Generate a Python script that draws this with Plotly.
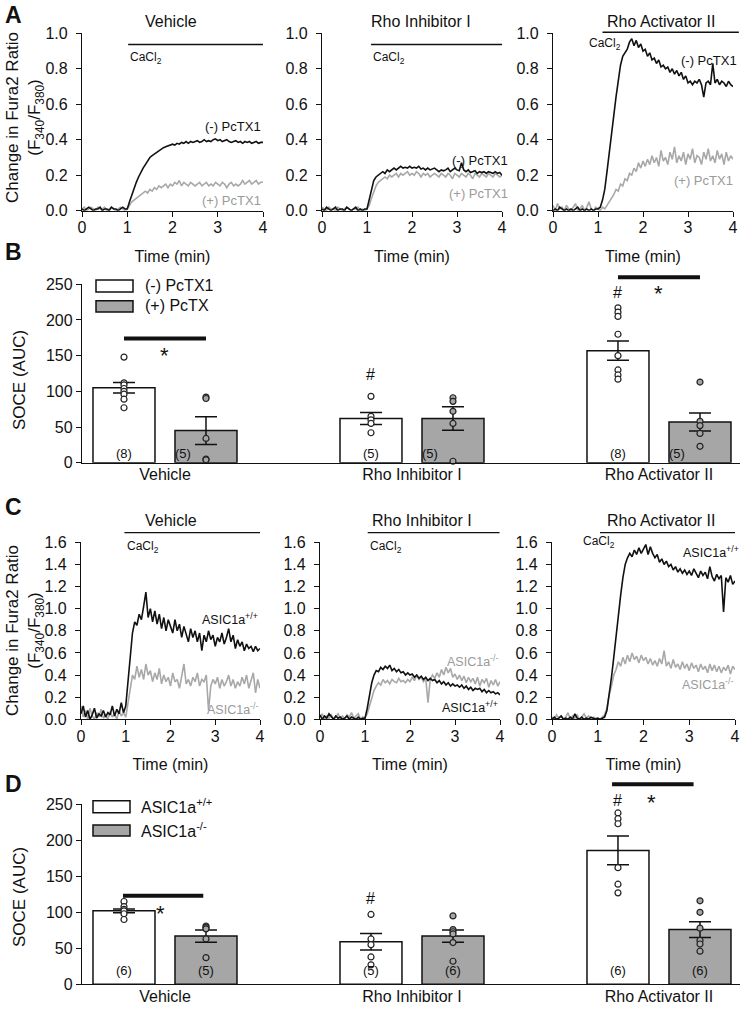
import plotly.graph_objects as go

W, H = 743, 1009
OX, OY = 0, 0
FONT = "Arial, Liberation Sans, sans-serif"
BLACK = "#111111"
GRAY_LINE = "#a8a8a8"
GRAY_BAR = "#a6a6a6"
GRAY_TEXT = "#9a9a9a"

# ---------------- data ----------------
TIME_MIN = [round(i * 0.05, 2) for i in range(81)]

A_VEH_MINUS = [0.01,0.00,0.01,0.02,0.01,0.00,0.01,0.01,0.02,0.00,0.01,0.01,0.00,0.02,0.01,0.01,0.00,0.01,0.02,0.01,0.01,
               0.05,0.09,0.13,0.16,0.19,0.22,0.24,0.26,0.28,0.30,
               0.31,0.32,0.33,0.34,0.35,0.355,0.36,0.365,0.37,0.375,
               0.37,0.38,0.375,0.385,0.38,0.39,0.38,0.39,0.385,0.39,
               0.395,0.385,0.39,0.40,0.39,0.395,0.39,0.40,0.405,0.395,
               0.40,0.39,0.395,0.40,0.39,0.385,0.39,0.395,0.385,0.39,
               0.38,0.39,0.385,0.39,0.38,0.385,0.39,0.38,0.385,0.385]
A_VEH_PLUS = [0.01,0.02,0.00,0.01,0.02,0.01,0.00,0.02,0.01,0.01,0.02,0.00,0.01,0.02,0.01,0.00,0.01,0.02,0.01,0.00,0.01,
              0.03,0.05,0.06,0.07,0.08,0.09,0.10,0.11,0.10,0.12,
              0.11,0.13,0.12,0.14,0.13,0.14,0.15,0.13,0.15,0.14,
              0.16,0.15,0.17,0.14,0.16,0.15,0.14,0.16,0.15,0.14,
              0.15,0.16,0.14,0.15,0.16,0.14,0.15,0.14,0.16,0.15,
              0.14,0.16,0.15,0.13,0.15,0.16,0.14,0.15,0.14,0.15,
              0.17,0.15,0.16,0.17,0.15,0.16,0.17,0.15,0.16,0.16]
A_INH_MINUS = [0.01,0.00,0.02,0.01,0.00,0.01,0.02,0.00,0.01,0.01,0.00,0.02,0.01,0.00,0.01,0.02,0.00,0.01,0.00,0.01,0.01,
               0.06,0.12,0.17,0.19,0.20,0.21,0.22,0.21,0.23,0.22,
               0.23,0.24,0.23,0.24,0.25,0.24,0.245,0.24,0.25,0.24,
               0.245,0.24,0.25,0.235,0.24,0.23,0.24,0.23,0.235,0.24,
               0.23,0.22,0.23,0.225,0.23,0.24,0.22,0.23,0.24,0.23,
               0.225,0.27,0.23,0.22,0.23,0.215,0.22,0.225,0.21,0.22,
               0.215,0.22,0.21,0.22,0.215,0.21,0.22,0.21,0.215,0.20]
A_INH_PLUS = [0.02,0.01,0.00,0.02,0.01,0.01,0.00,0.02,0.01,0.00,0.01,0.02,0.01,0.00,0.01,0.01,0.02,0.00,0.01,0.00,0.01,
              0.03,0.07,0.11,0.14,0.16,0.17,0.18,0.19,0.18,0.20,
              0.19,0.20,0.21,0.19,0.21,0.20,0.21,0.22,0.20,0.21,
              0.20,0.22,0.21,0.19,0.21,0.20,0.21,0.19,0.20,0.21,
              0.20,0.19,0.21,0.20,0.19,0.21,0.20,0.18,0.21,0.20,
              0.19,0.21,0.20,0.19,0.21,0.20,0.18,0.21,0.20,0.19,
              0.21,0.20,0.19,0.21,0.20,0.19,0.21,0.20,0.19,0.20]
A_ACT_MINUS = [0.00,0.01,0.00,0.02,0.01,0.00,0.01,0.00,0.01,0.00,0.01,0.02,0.00,0.01,0.00,0.01,0.00,0.01,0.00,0.01,0.01,
               0.02,0.06,0.12,0.22,0.33,0.45,0.55,0.64,0.73,0.82,
               0.87,0.89,0.91,0.95,0.97,0.93,0.96,0.92,0.94,0.90,
               0.91,0.87,0.89,0.85,0.86,0.83,0.85,0.81,0.82,0.80,
               0.81,0.78,0.80,0.77,0.79,0.76,0.78,0.74,0.76,0.72,
               0.73,0.71,0.73,0.72,0.74,0.71,0.64,0.72,0.73,0.71,
               0.83,0.72,0.74,0.71,0.73,0.72,0.70,0.73,0.71,0.70]
A_ACT_PLUS = [0.03,0.00,0.04,0.01,0.02,0.00,0.03,0.01,0.00,0.02,0.04,0.00,0.01,0.03,0.00,0.02,0.05,0.01,0.00,0.02,0.01,
              0.00,0.02,0.01,0.03,0.05,0.07,0.09,0.12,0.11,0.15,
              0.14,0.18,0.17,0.21,0.20,0.24,0.22,0.27,0.24,0.28,
              0.25,0.29,0.26,0.31,0.27,0.30,0.25,0.34,0.28,0.30,
              0.26,0.33,0.29,0.36,0.27,0.31,0.28,0.33,0.26,0.32,
              0.29,0.35,0.27,0.31,0.30,0.26,0.33,0.29,0.35,0.28,
              0.31,0.27,0.34,0.29,0.32,0.26,0.33,0.28,0.31,0.29]

C_VEH_WT = [0.05,0.12,0.02,0.08,0.00,0.04,0.10,0.01,0.05,0.03,0.08,0.02,0.06,0.04,0.12,0.03,0.09,0.05,0.15,0.06,0.12,
            0.35,0.60,0.78,0.88,0.85,0.95,0.90,1.02,1.15,0.92,
            1.00,0.88,0.98,0.86,0.95,0.82,0.92,0.80,0.90,0.84,
            0.78,0.90,0.80,0.86,0.74,0.84,0.78,0.70,0.82,0.74,
            0.80,0.70,0.78,0.62,0.76,0.70,0.80,0.72,0.76,0.66,
            0.74,0.70,0.78,0.68,0.74,0.82,0.70,0.76,0.64,0.72,
            0.66,0.70,0.62,0.68,0.64,0.66,0.61,0.66,0.62,0.64]
C_VEH_KO = [0.12,0.02,0.08,0.00,0.10,0.03,0.00,0.06,0.02,0.09,0.01,0.04,0.00,0.07,0.02,0.05,0.00,0.08,0.03,0.06,0.02,
            0.15,0.28,0.40,0.36,0.48,0.38,0.45,0.36,0.50,0.40,
            0.44,0.34,0.42,0.36,0.46,0.32,0.40,0.34,0.38,0.30,
            0.42,0.34,0.36,0.28,0.40,0.50,0.32,0.36,0.30,0.38,
            0.34,0.42,0.30,0.36,0.34,0.40,0.08,0.30,0.36,0.32,
            0.38,0.28,0.36,0.30,0.34,0.40,0.30,0.36,0.28,0.34,
            0.30,0.38,0.32,0.40,0.28,0.36,0.42,0.24,0.36,0.28]
C_INH_WT = [0.04,0.00,0.03,0.01,0.05,0.02,0.00,0.03,0.01,0.02,0.00,0.01,0.03,0.00,0.02,0.01,0.00,0.02,0.00,0.01,0.01,
            0.10,0.22,0.33,0.40,0.44,0.43,0.47,0.45,0.48,0.46,
            0.49,0.44,0.46,0.43,0.45,0.42,0.43,0.40,0.42,0.40,
            0.41,0.38,0.40,0.37,0.39,0.36,0.38,0.35,0.37,0.35,
            0.36,0.33,0.35,0.32,0.34,0.31,0.33,0.30,0.32,0.30,
            0.31,0.29,0.31,0.28,0.30,0.27,0.29,0.26,0.28,0.27,
            0.28,0.25,0.27,0.24,0.26,0.24,0.25,0.23,0.24,0.22]
C_INH_KO = [0.02,0.05,0.00,0.03,0.01,0.04,0.00,0.02,0.05,0.01,0.03,0.00,0.04,0.02,0.06,0.01,0.03,0.05,0.00,0.02,0.01,
            0.05,0.12,0.20,0.26,0.30,0.33,0.31,0.36,0.33,0.35,
            0.32,0.36,0.34,0.33,0.37,0.34,0.35,0.33,0.36,0.34,
            0.38,0.35,0.40,0.36,0.38,0.34,0.37,0.15,0.36,0.40,
            0.37,0.42,0.38,0.45,0.40,0.47,0.42,0.46,0.38,0.41,
            0.36,0.40,0.35,0.39,0.33,0.38,0.34,0.37,0.32,0.38,
            0.30,0.36,0.33,0.37,0.29,0.35,0.31,0.36,0.30,0.34]
C_ACT_WT = [0.00,0.02,0.00,0.01,0.03,0.00,0.01,0.00,0.02,0.00,0.05,0.01,0.00,0.02,0.00,0.01,0.00,0.02,0.01,0.00,0.01,
            0.00,0.01,0.02,0.08,0.22,0.38,0.56,0.76,0.95,1.12,
            1.28,1.40,1.46,1.50,1.47,1.53,1.49,1.55,1.50,1.54,
            1.58,1.49,1.56,1.50,1.46,1.49,1.42,1.45,1.40,1.43,
            1.38,1.40,1.35,1.38,1.33,1.36,1.32,1.35,1.31,1.34,
            1.30,1.36,1.32,1.28,1.34,1.30,1.33,1.27,1.38,1.29,
            1.25,1.31,1.27,1.30,0.97,1.28,1.24,1.30,1.22,1.25]
C_ACT_KO = [0.02,0.00,0.04,0.01,0.03,0.00,0.02,0.06,0.00,0.03,0.01,0.04,0.00,0.02,0.05,0.01,0.03,0.00,0.02,0.01,0.01,
            0.00,0.02,0.04,0.10,0.22,0.30,0.40,0.45,0.52,0.48,
            0.56,0.50,0.58,0.52,0.60,0.54,0.57,0.51,0.58,0.53,
            0.56,0.50,0.55,0.49,0.53,0.48,0.55,0.50,0.62,0.48,
            0.52,0.46,0.54,0.47,0.50,0.45,0.52,0.46,0.50,0.44,
            0.51,0.46,0.49,0.43,0.50,0.45,0.48,0.42,0.50,0.44,
            0.49,0.43,0.48,0.42,0.47,0.44,0.49,0.41,0.48,0.45]

GROUPS = ["Vehicle", "Rho Inhibitor I", "Rho Activator II"]

# Panel B: SOCE (AUC), (-) PcTX1 vs (+) PcTX
B_MINUS_MEAN = [105, 62, 157]
B_MINUS_SEM = [7.5, 8.5, 13.5]
B_MINUS_N = [8, 5, 8]
B_MINUS_PTS = [[148, 112, 109, 104, 100, 96, 89, 77],
               [93, 65, 60, 55, 42],
               [217, 211, 205, 180, 150, 130, 123, 117]]
B_PLUS_MEAN = [45, 62, 57]
B_PLUS_SEM = [19.5, 16.5, 12.5]
B_PLUS_N = [5, 5, 5]
B_PLUS_PTS = [[92, 90, 34, 5, 4],
              [91, 86, 72, 55, 2],
              [113, 58, 52, 41, 23]]

# Panel D: SOCE (AUC), ASIC1a+/+ vs ASIC1a-/-
D_WT_MEAN = [102, 59, 186]
D_WT_SEM = [2.5, 11.5, 20]
D_WT_N = [6, 5, 6]
D_WT_PTS = [[115, 108, 104, 102, 98, 90],
            [97, 63, 55, 38, 27],
            [238, 230, 223, 162, 139, 127]]
D_KO_MEAN = [67, 67, 76]
D_KO_SEM = [8.5, 8.5, 11]
D_KO_N = [5, 6, 6]
D_KO_PTS = [[81, 79, 77, 63, 37],
            [95, 76, 73, 70, 58, 32],
            [116, 100, 78, 61, 56, 46]]

# ---------------- layout helpers ----------------
fig = go.Figure()

TX_RANGE = [0, 4]
A_YR = [0, 1.0]
C_YR = [0, 1.6]
BX_RANGE = [-0.336, 2.328]
BY_RANGE = [0, 250]
OFF = 0.166
BAR_W = 0.251


def aid(n):
    return "" if n == 1 else str(n)


def xdom(p0, p1):
    return [(p0 - OX) / W, (p1 - OX) / W]


def ydom(top, bottom):
    return [1 - (bottom - OY) / H, 1 - (top - OY) / H]


def frac(v, r):
    return (v - r[0]) / (r[1] - r[0])


def note(n, xr, yr, x, y, text, size=13, color=BLACK, xanchor="center", yanchor="middle"):
    fig.add_annotation(xref=f"x{aid(n)} domain", yref=f"y{aid(n)} domain",
                       x=frac(x, xr), y=frac(y, yr), text=text, showarrow=False,
                       xanchor=xanchor, yanchor=yanchor,
                       font=dict(family=FONT, size=size, color=color))


def hline(n, xr, yr, x0, x1, y, width=1.3):
    fig.add_shape(type="line", xref=f"x{aid(n)} domain", yref=f"y{aid(n)} domain",
                  x0=frac(x0, xr), x1=frac(x1, xr), y0=frac(y, yr), y1=frac(y, yr),
                  line=dict(color=BLACK, width=width))


axis_common = dict(showline=True, linecolor=BLACK, linewidth=1.3, ticks="outside",
                   ticklen=5, tickwidth=1.3, tickcolor=BLACK, showgrid=False, zeroline=False,
                   automargin=False,
                   tickfont=dict(family=FONT, size=16, color=BLACK))

layout_axes = {}
TRACE_COLS_A = [(82, 263), (322, 502), (553, 733)]
TRACE_COLS_C = [(81, 260), (320, 500), (552, 735)]

# trace panels
trace_panels = [
    (1, A_YR, (33.3, 210.7), TRACE_COLS_A[0], A_VEH_MINUS, A_VEH_PLUS),
    (2, A_YR, (33.3, 210.7), TRACE_COLS_A[1], A_INH_MINUS, A_INH_PLUS),
    (3, A_YR, (33.3, 210.7), TRACE_COLS_A[2], A_ACT_MINUS, A_ACT_PLUS),
    (5, C_YR, (542.3, 719.3), TRACE_COLS_C[0], C_VEH_WT, C_VEH_KO),
    (6, C_YR, (542.3, 719.3), TRACE_COLS_C[1], C_INH_WT, C_INH_KO),
    (7, C_YR, (542.3, 719.3), TRACE_COLS_C[2], C_ACT_WT, C_ACT_KO),
]
for n, yr, (ytop, ybot), (xl, xrr), black_vals, gray_vals in trace_panels:
    layout_axes[f"xaxis{aid(n)}"] = dict(axis_common, domain=xdom(xl, xrr), range=TX_RANGE,
                                         tickvals=[0, 1, 2, 3, 4], anchor=f"y{aid(n)}",
                                         ticklabelstandoff=-3,
                                         title=dict(text="Time (min)", standoff=15,
                                                    font=dict(family=FONT, size=16, color=BLACK)))
    layout_axes[f"yaxis{aid(n)}"] = dict(axis_common, domain=ydom(ytop, ybot), range=yr,
                                         dtick=0.2, tickformat=".1f", anchor=f"x{aid(n)}",
                                         ticklabelstandoff=5)
    fig.add_trace(go.Scatter(x=TIME_MIN, y=gray_vals, mode="lines",
                             line=dict(color=GRAY_LINE, width=1.6),
                             xaxis=f"x{aid(n)}", yaxis=f"y{aid(n)}", showlegend=False))
    fig.add_trace(go.Scatter(x=TIME_MIN, y=black_vals, mode="lines",
                             line=dict(color=BLACK, width=1.6),
                             xaxis=f"x{aid(n)}", yaxis=f"y{aid(n)}", showlegend=False))

# bar panels
bar_panels = [
    (4, (284.3, 462.7), B_MINUS_MEAN, B_MINUS_SEM, B_MINUS_PTS, B_MINUS_N,
     B_PLUS_MEAN, B_PLUS_SEM, B_PLUS_PTS, B_PLUS_N, 13.5, 0.095),
    (8, (804.3, 984.3), D_WT_MEAN, D_WT_SEM, D_WT_PTS, D_WT_N,
     D_KO_MEAN, D_KO_SEM, D_KO_PTS, D_KO_N, 19.5, 0.0),
]
for (n, (ytop, ybot), m1, s1, p1, n1, m2, s2, p2, n2, cnt_y, cnt_dx) in bar_panels:
    layout_axes[f"xaxis{aid(n)}"] = dict(showline=True, linecolor=BLACK, linewidth=1.3,
                                         ticks="", showgrid=False, zeroline=False, automargin=False,
                                         domain=xdom(82, 740), range=BX_RANGE,
                                         tickvals=[0, 1, 2], ticktext=GROUPS, anchor=f"y{aid(n)}",
                                         ticklabelstandoff=-3,
                                         tickfont=dict(family=FONT, size=16, color=BLACK))
    layout_axes[f"yaxis{aid(n)}"] = dict(axis_common, domain=ydom(ytop, ybot), range=BY_RANGE,
                                         dtick=50, anchor=f"x{aid(n)}")
    xs1 = [g - OFF for g in range(3)]
    xs2 = [g + OFF for g in range(3)]
    for xs, means, sems, fill in [(xs1, m1, s1, "white"), (xs2, m2, s2, GRAY_BAR)]:
        fig.add_trace(go.Bar(x=xs, y=means, width=BAR_W,
                             marker=dict(color=fill, line=dict(color=BLACK, width=1.5)),
                             error_y=dict(type="data", array=sems, color=BLACK, thickness=1.5, width=11),
                             xaxis=f"x{aid(n)}", yaxis=f"y{aid(n)}", showlegend=False))
    for xs, pts, fill in [(xs1, p1, "white"), (xs2, p2, GRAY_BAR)]:
        for x, vals in zip(xs, pts):
            fig.add_trace(go.Scatter(x=[x] * len(vals), y=vals, mode="markers",
                                     marker=dict(symbol="circle", size=6, color=fill,
                                                 line=dict(color="#222222", width=1.2)),
                                     cliponaxis=False,
                                     xaxis=f"x{aid(n)}", yaxis=f"y{aid(n)}", showlegend=False))
    for g in range(3):
        note(n, BX_RANGE, BY_RANGE, xs1[g], cnt_y, f"({n1[g]})", size=13)
        note(n, BX_RANGE, BY_RANGE, xs2[g] - cnt_dx, cnt_y, f"({n2[g]})", size=13)

fig.update_layout(**layout_axes)

# ---------------- trace panel annotations ----------------
CA = "CaCl<sub>2</sub>"
# Panel A
note(1, TX_RANGE, A_YR, 1.96, 1.069, "Vehicle", size=16)
hline(1, TX_RANGE, A_YR, 1.02, 4.0, 0.937)
note(1, TX_RANGE, A_YR, 1.02, 0.858, CA, size=12, xanchor="left")
note(1, TX_RANGE, A_YR, 4.0, 0.472, "(-) PcTX1", size=13, xanchor="right")
note(1, TX_RANGE, A_YR, 4.0, 0.06, "(+) PcTX1", size=13, color=GRAY_TEXT, xanchor="right")

note(2, TX_RANGE, A_YR, 2.2, 1.069, "Rho Inhibitor I", size=16)
hline(2, TX_RANGE, A_YR, 1.09, 4.0, 0.937)
note(2, TX_RANGE, A_YR, 1.09, 0.858, CA, size=12, xanchor="left")
note(2, TX_RANGE, A_YR, 4.17, 0.285, "(-) PcTX1", size=13, xanchor="right")
note(2, TX_RANGE, A_YR, 4.17, 0.098, "(+) PcTX1", size=13, color=GRAY_TEXT, xanchor="right")

note(3, TX_RANGE, A_YR, 2.41, 1.069, "Rho Activator II", size=16)
hline(3, TX_RANGE, A_YR, 1.1, 4.13, 1.006)
note(3, TX_RANGE, A_YR, 1.56, 0.94, CA, size=12, xanchor="right")
note(3, TX_RANGE, A_YR, 4.13, 0.847, "(-) PcTX1", size=13, xanchor="right")
note(3, TX_RANGE, A_YR, 4.04, 0.172, "(+) PcTX1", size=13, color=GRAY_TEXT, xanchor="right")

# Panel C
WT = "ASIC1a<sup>+/+</sup>"
KO = "ASIC1a<sup>-/-</sup>"
note(5, TX_RANGE, C_YR, 2.0, 1.793, "Vehicle", size=16)
hline(5, TX_RANGE, C_YR, 0.97, 4.0, 1.687)
note(5, TX_RANGE, C_YR, 0.99, 1.56, CA, size=12, xanchor="left")
note(5, TX_RANGE, C_YR, 4.0, 0.91, WT, size=12.5, xanchor="right")
note(5, TX_RANGE, C_YR, 4.0, 0.09, KO, size=12.5, color=GRAY_TEXT, xanchor="right")

note(6, TX_RANGE, C_YR, 2.26, 1.793, "Rho Inhibitor I", size=16)
hline(6, TX_RANGE, C_YR, 1.06, 3.99, 1.687)
note(6, TX_RANGE, C_YR, 1.06, 1.56, CA, size=12, xanchor="left")
note(6, TX_RANGE, C_YR, 4.0, 0.53, KO, size=12.5, color=GRAY_TEXT, xanchor="right")
note(6, TX_RANGE, C_YR, 4.0, 0.11, WT, size=12.5, xanchor="right")

note(7, TX_RANGE, C_YR, 2.39, 1.793, "Rho Activator II", size=16)
hline(7, TX_RANGE, C_YR, 1.05, 4.0, 1.687)
note(7, TX_RANGE, C_YR, 1.42, 1.6, CA, size=12, xanchor="right")
note(7, TX_RANGE, C_YR, 4.14, 1.51, WT, size=12.5, xanchor="right")
note(7, TX_RANGE, C_YR, 4.0, 0.32, KO, size=12.5, color=GRAY_TEXT, xanchor="right")

# ---------------- bar panel annotations ----------------
# B
hline(4, BX_RANGE, BY_RANGE, -OFF, OFF, 174, width=4)
note(4, BX_RANGE, BY_RANGE, 0.0, 150, "*", size=22)
hline(4, BX_RANGE, BY_RANGE, 2 - OFF, 2 + OFF, 260, width=4)
note(4, BX_RANGE, BY_RANGE, 2.0, 237, "*", size=22)
note(4, BX_RANGE, BY_RANGE, 1 - OFF, 124, "#", size=16)
note(4, BX_RANGE, BY_RANGE, 2 - OFF, 239, "#", size=16)
# D
hline(8, BX_RANGE, BY_RANGE, -0.17, 0.155, 123, width=4)
note(8, BX_RANGE, BY_RANGE, -0.02, 99, "*", size=22)
hline(8, BX_RANGE, BY_RANGE, 1.81, 2.14, 278, width=4)
note(8, BX_RANGE, BY_RANGE, 1.97, 253, "*", size=22)
note(8, BX_RANGE, BY_RANGE, 1 - OFF, 119, "#", size=16)
note(8, BX_RANGE, BY_RANGE, 2 - OFF, 255, "#", size=16)


# ---------------- legends (paper coords) ----------------
def legend_box(x0, x1, top, bottom, fill):
    fig.add_shape(type="rect", xref="paper", yref="paper", x0=(x0 - OX) / W, x1=(x1 - OX) / W,
                  y0=1 - (bottom - OY) / H, y1=1 - (top - OY) / H, fillcolor=fill,
                  line=dict(color=BLACK, width=1.5))


def paper_text(x, y, text, size=16, xanchor="left", angle=0):
    fig.add_annotation(xref="paper", yref="paper", x=(x - OX) / W, y=1 - (y - OY) / H, text=text,
                       showarrow=False, xanchor=xanchor, yanchor="middle", textangle=angle,
                       font=dict(family=FONT, size=size, color=BLACK))


legend_box(96, 133, 280, 292, "white")
legend_box(96, 133, 300.7, 312, GRAY_BAR)
paper_text(143, 286, "(-) PcTX1")
paper_text(143, 306, "(+) PcTX")

legend_box(93, 130, 800.7, 812.7, "white")
legend_box(93, 130, 825, 836, GRAY_BAR)
paper_text(139, 806, WT)
paper_text(139, 830, KO)

# panel letters
for letter, y in [("A", 15), ("B", 252), ("C", 507), ("D", 784)]:
    paper_text(3, y, f"<b>{letter}</b>", size=23)

# y-axis titles
FURA = "Change in Fura2 Ratio<br>(F<sub>340</sub>/F<sub>380</sub>)"
paper_text(25, 118, FURA, size=17, xanchor="center", angle=-90)
paper_text(25, 631, FURA, size=17, xanchor="center", angle=-90)
paper_text(19, 380, "SOCE (AUC)", size=17, xanchor="center", angle=-90)
paper_text(19, 897, "SOCE (AUC)", size=17, xanchor="center", angle=-90)

fig.update_layout(template="none", width=W, height=H, margin=dict(l=0, r=0, t=0, b=0, pad=0),
                  plot_bgcolor="white", paper_bgcolor="white",
                  font=dict(family=FONT, size=14, color=BLACK),
                  showlegend=False, barmode="overlay")

# remove the browser's default 8px page margin so the figure fills the window exactly
fig.write_html("out.html", config={"displayModeBar": False},
               post_script="document.body.style.margin='0';")
